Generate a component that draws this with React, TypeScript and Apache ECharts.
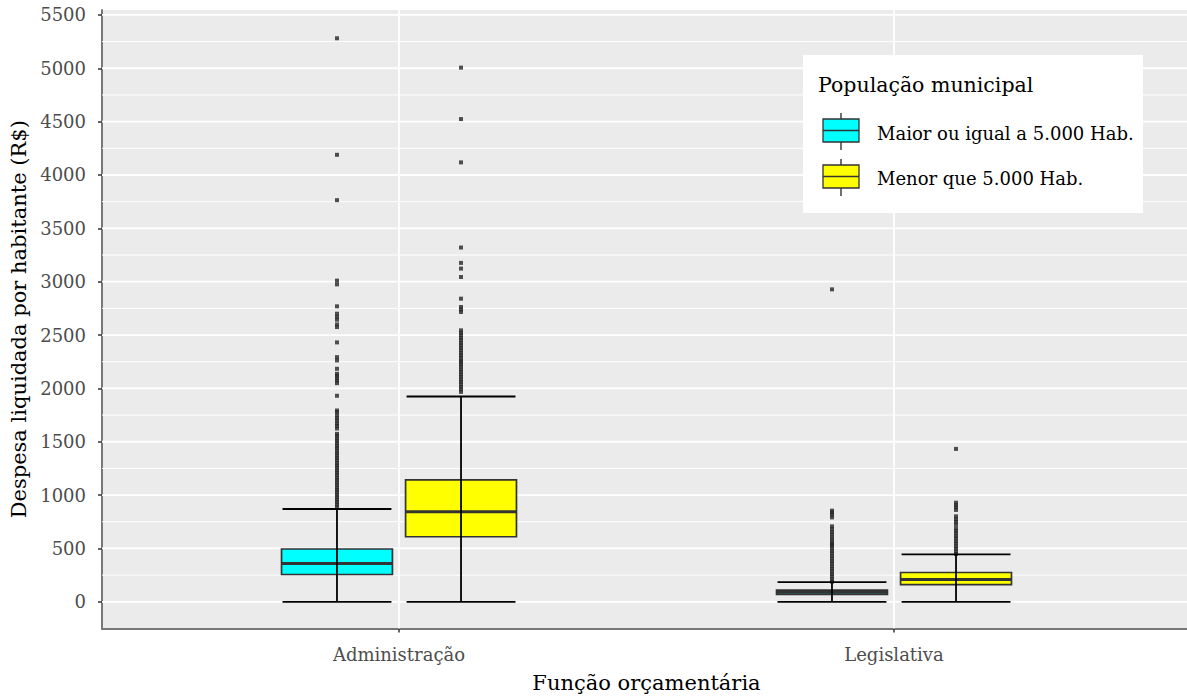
import React, { useEffect, useRef } from "react";
import * as echarts from "echarts";

const categories = ["Administração", "Legislativa"];
const groupNames = ["Maior ou igual a 5.000 Hab.", "Menor que 5.000 Hab."];
const legendTitle = "População municipal";
const yTicks = [0, 500, 1000, 1500, 2000, 2500, 3000, 3500, 4000, 4500, 5000, 5500];
const yMinorTicks = [250, 750, 1250, 1750, 2250, 2750, 3250, 3750, 4250, 4750, 5250];

// [min, Q1, median, Q3, max] per category
const boxMaiorIgual = [
  [0, 256, 360, 495, 870],
  [0, 70, 90, 110, 185],
];
const boxMenor = [
  [0, 610, 845, 1142, 1924],
  [0, 162, 210, 275, 444],
];

// outliers
const outMaiorAdmin = [
  890, 912, 935, 957, 981, 1003, 1027, 1049, 1071, 1096, 1118, 1142, 1163, 1188, 1210, 1232,
  1257, 1279, 1301, 1326, 1348, 1372, 1393, 1417, 1441, 1462, 1487, 1509, 1531, 1556, 1574,
  1624, 1649, 1671, 1698, 1721, 1746, 1777, 1793, 1931, 2049, 2073, 2095, 2118, 2137, 2184,
  2262, 2293, 2431, 2575, 2600, 2644, 2671, 2700, 2769, 2975, 3010, 3764, 4189, 5281,
];
const outMenorAdmin = [
  1967, 1991, 2013, 2038, 2062, 2084, 2109, 2131, 2156, 2178, 2203, 2225, 2246, 2262, 2287,
  2309, 2332, 2357, 2379, 2404, 2426, 2451, 2473, 2498, 2520, 2544, 2716, 2740, 2763, 2841,
  3044, 3123, 3176, 3320, 4118, 4524, 5006,
];
const outMaiorLeg = [
  190, 213, 238, 261, 287, 310, 333, 359, 381, 406, 429, 455, 477, 502, 525, 541, 557, 582,
  604, 631, 654, 681, 707, 791, 816, 837, 854, 2928,
];
const outMenorLeg = [
  449, 472, 498, 520, 546, 568, 594, 616, 642, 664, 688, 723, 749, 774, 801, 861, 885, 906,
  929, 1433,
];

const COLORS = ["#00FFFF", "#FFFF00"];
const DODGE = 0.1253;
const BOX_W = 0.224;
const CAP_W = 0.22;
const FONT = "DejaVu Serif";
const LZ = 100;

function boxSeries(name: string, boxes: number[][], color: string, offset: number) {
  return {
    type: "custom",
    name,
    z: 3,
    data: boxes.map((b, i) => [i + 1 + offset, ...b]),
    encode: { x: 0, y: [1, 2, 3, 4, 5] },
    renderItem: (params: any, api: any) => {
      const x = api.value(0);
      const pMin = api.coord([x, api.value(1)]);
      const pQ1 = api.coord([x, api.value(2)]);
      const pMed = api.coord([x, api.value(3)]);
      const pQ3 = api.coord([x, api.value(4)]);
      const pMax = api.coord([x, api.value(5)]);
      const half = api.size([BOX_W, 0])[0] / 2;
      const capHalf = api.size([CAP_W, 0])[0] / 2;
      const cx = pMed[0];
      return {
        type: "group",
        children: [
          {
            type: "rect",
            shape: { x: cx - half, y: pQ3[1], width: half * 2, height: pQ1[1] - pQ3[1] },
            style: { fill: color, stroke: "#333333", lineWidth: 1.7 },
          },
          {
            type: "line",
            shape: { x1: cx - half, y1: pMed[1], x2: cx + half, y2: pMed[1] },
            style: { stroke: "#333333", lineWidth: 3 },
          },
          {
            type: "line",
            shape: { x1: cx, y1: pMin[1], x2: cx, y2: pMax[1] },
            style: { stroke: "#000000", lineWidth: 1.8 },
          },
          {
            type: "line",
            shape: { x1: cx - capHalf, y1: pMin[1], x2: cx + capHalf, y2: pMin[1] },
            style: { stroke: "#000000", lineWidth: 1.8 },
          },
          {
            type: "line",
            shape: { x1: cx - capHalf, y1: pMax[1], x2: cx + capHalf, y2: pMax[1] },
            style: { stroke: "#000000", lineWidth: 1.8 },
          },
        ],
      };
    },
  };
}

function outlierSeries(name: string, lists: number[][], offset: number) {
  const data: number[][] = [];
  lists.forEach((list, i) => list.forEach((v) => data.push([i + 1 + offset, v])));
  return {
    type: "scatter",
    name,
    z: 2,
    symbol: "rect",
    symbolSize: 4,
    itemStyle: { color: "#262626" },
    data,
    silent: true,
  };
}

function hGridSeries(values: number[], width: number) {
  return {
    type: "custom",
    silent: true,
    z: 1,
    data: values.map((v) => [v]),
    encode: { y: 0 },
    renderItem: (params: any, api: any) => {
      const cs = params.coordSys;
      const y = api.coord([1, api.value(0)])[1];
      return {
        type: "line",
        shape: { x1: cs.x, y1: y, x2: cs.x + cs.width, y2: y },
        style: { stroke: "#FFFFFF", lineWidth: width },
      };
    },
  };
}

function vGridSeries(values: number[], width: number) {
  return {
    type: "custom",
    silent: true,
    z: 1,
    data: values.map((v) => [v]),
    encode: { x: 0 },
    renderItem: (params: any, api: any) => {
      const cs = params.coordSys;
      const x = api.coord([api.value(0), 0])[0];
      return {
        type: "line",
        shape: { x1: x, y1: cs.y, x2: x, y2: cs.y + cs.height },
        style: { stroke: "#FFFFFF", lineWidth: width },
      };
    },
  };
}

function legendKey(y0: number, color: string) {
  // y0: top of key box
  return [
    {
      type: "line",
      z: LZ + 1,
      shape: { x1: 841, y1: y0 - 6, x2: 841, y2: y0 + 31 },
      style: { stroke: "#333333", lineWidth: 1.4 },
    },
    {
      type: "rect",
      z: LZ + 2,
      shape: { x: 823, y: y0, width: 36, height: 23 },
      style: { fill: color, stroke: "#333333", lineWidth: 1.3 },
    },
    {
      type: "line",
      z: LZ + 3,
      shape: { x1: 823, y1: y0 + 11.5, x2: 859, y2: y0 + 11.5 },
      style: { stroke: "#333333", lineWidth: 1.4 },
    },
  ];
}

export default function App() {
  const ref = useRef<HTMLDivElement>(null);
  useEffect(() => {
    if (!ref.current) return;
    const chart = echarts.init(ref.current, undefined, { renderer: "svg" });
    const catValues = categories.map((_, i) => i + 1);
    chart.setOption({
      animation: false,
      grid: {
        left: 102,
        top: 10,
        width: 1089,
        height: 618.5,
        show: true,
        backgroundColor: "#EBEBEB",
        borderWidth: 0,
        containLabel: false,
        outerBoundsMode: "none",
      },
      xAxis: {
        type: "value",
        min: 0.4,
        max: 2.6,
        name: "Função orçamentária",
        nameLocation: "middle",
        nameGap: 44,
        nameTextStyle: { fontFamily: FONT, fontSize: 21, color: "#000000" },
        axisLine: { show: true, onZero: false, lineStyle: { color: "#777777", width: 2 } },
        axisTick: {
          show: true,
          length: 4,
          customValues: catValues,
          lineStyle: { color: "#333333", width: 1.5 },
        },
        axisLabel: {
          customValues: catValues,
          formatter: (v: number) => categories[Math.round(v) - 1] ?? "",
          color: "#4D4D4D",
          fontFamily: FONT,
          fontSize: 18,
          margin: 17,
        },
        splitLine: { show: false },
      },
      yAxis: {
        type: "value",
        min: -250,
        max: 5546,
        name: "Despesa liquidada por habitante (R$)",
        nameLocation: "middle",
        nameGap: 67,
        nameTextStyle: { fontFamily: FONT, fontSize: 21, color: "#000000" },
        axisLine: { show: true, onZero: false, lineStyle: { color: "#777777", width: 2 } },
        axisTick: {
          show: true,
          length: 4,
          customValues: yTicks,
          lineStyle: { color: "#333333", width: 1.5 },
        },
        axisLabel: {
          customValues: yTicks,
          formatter: (v: number) => String(Math.round(v)),
          color: "#4D4D4D",
          fontFamily: FONT,
          fontSize: 18,
          margin: 16,
        },
        splitLine: { show: false },
      },
      series: [
        hGridSeries(yMinorTicks, 1),
        hGridSeries(yTicks, 1.8),
        vGridSeries(catValues, 1.8),
        outlierSeries(groupNames[0], [outMaiorAdmin, outMaiorLeg], -DODGE),
        outlierSeries(groupNames[1], [outMenorAdmin, outMenorLeg], DODGE),
        boxSeries(groupNames[0], boxMaiorIgual, COLORS[0], -DODGE),
        boxSeries(groupNames[1], boxMenor, COLORS[1], DODGE),
      ],
      graphic: [
        {
          type: "rect",
          z: LZ,
          shape: { x: 803, y: 55, width: 340, height: 158 },
          style: { fill: "#FFFFFF" },
        },
        {
          type: "text",
          z: LZ + 1,
          x: 818,
          y: 85,
          style: {
            text: legendTitle,
            fontFamily: FONT,
            fontSize: 20.5,
            fill: "#000000",
            verticalAlign: "middle",
          },
        },
        ...legendKey(119, COLORS[0]),
        ...legendKey(165, COLORS[1]),
        {
          type: "text",
          z: LZ + 1,
          x: 877,
          y: 133,
          style: {
            text: groupNames[0],
            fontFamily: FONT,
            fontSize: 18,
            fill: "#000000",
            verticalAlign: "middle",
          },
        },
        {
          type: "text",
          z: LZ + 1,
          x: 877,
          y: 178,
          style: {
            text: groupNames[1],
            fontFamily: FONT,
            fontSize: 18,
            fill: "#000000",
            verticalAlign: "middle",
          },
        },
      ],
    });
    return () => chart.dispose();
  }, []);
  return (
    <div
      ref={ref}
      style={{ position: "absolute", left: 0, top: 0, width: 1187, height: 696, background: "#FFFFFF" }}
    />
  );
}
